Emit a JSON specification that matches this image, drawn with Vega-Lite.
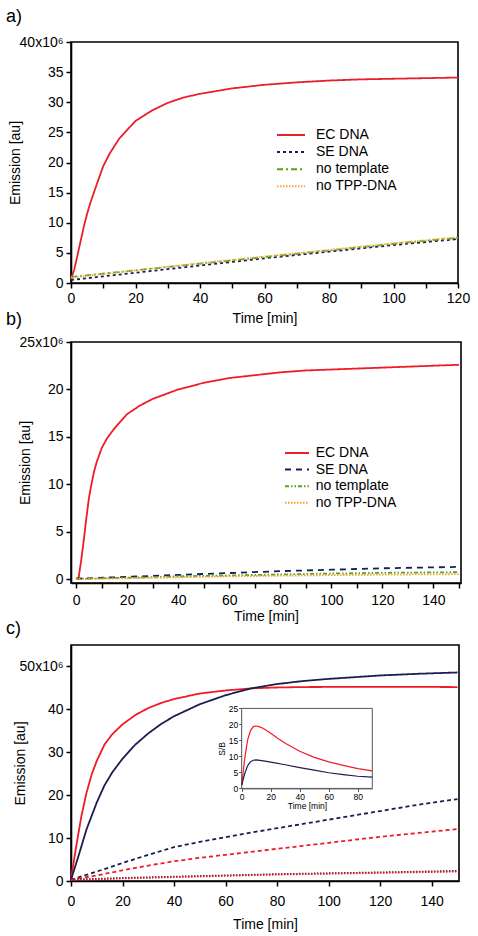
{
 "$schema": "https://vega.github.io/schema/vega-lite/v6.json",
 "background": "white",
 "padding": {"left": 5, "top": 7, "right": 8, "bottom": 4},
 "spacing": -16,
 "resolve": {"scale": {"color": "independent", "strokeDash": "independent"}, "legend": {"color": "independent", "strokeDash": "independent"}},
 "config": {
  "font": "Liberation Sans",
  "view": {"stroke": "black", "strokeWidth": 1.6},
  "axis": {"domainColor": "black", "domainWidth": 1.6, "tickColor": "black", "tickWidth": 1.5, "tickSize": 5, "labelFontSize": 14, "labelColor": "black", "labelFont": "Liberation Sans", "titleFont": "Liberation Sans", "titleFontSize": 14, "titleFontWeight": "normal", "titleColor": "black", "grid": false, "labelFlush": false, "labelOverlap": false, "labelPadding": 3, "titlePadding": 6},
  "legend": {"orient": "none", "title": null, "symbolType": "M-2,0H2", "symbolSize": 196, "symbolStrokeWidth": 2, "labelFontSize": 14, "labelFont": "Liberation Sans", "labelColor": "black", "labelOffset": 17, "rowPadding": 2.1, "padding": 0},
  "title": {"anchor": "start", "frame": "group", "fontSize": 18, "fontWeight": "normal", "font": "Liberation Sans", "color": "black", "dx": -65}
 },
 "datasets": {
  "a": [
   {"t":0,"v":0.7,"s":"EC DNA"},{"t":1,"v":2.2,"s":"EC DNA"},{"t":2,"v":4.6,"s":"EC DNA"},{"t":3,"v":7,"s":"EC DNA"},{"t":4,"v":9.4,"s":"EC DNA"},{"t":5,"v":11.5,"s":"EC DNA"},{"t":6,"v":13.3,"s":"EC DNA"},{"t":8,"v":16.4,"s":"EC DNA"},{"t":10,"v":19.4,"s":"EC DNA"},{"t":12,"v":21.5,"s":"EC DNA"},{"t":15,"v":24,"s":"EC DNA"},{"t":20,"v":26.9,"s":"EC DNA"},{"t":25,"v":28.6,"s":"EC DNA"},{"t":30,"v":29.9,"s":"EC DNA"},{"t":35,"v":30.8,"s":"EC DNA"},{"t":40,"v":31.4,"s":"EC DNA"},{"t":50,"v":32.3,"s":"EC DNA"},{"t":60,"v":32.9,"s":"EC DNA"},{"t":70,"v":33.3,"s":"EC DNA"},{"t":80,"v":33.6,"s":"EC DNA"},{"t":90,"v":33.8,"s":"EC DNA"},{"t":100,"v":33.9,"s":"EC DNA"},{"t":110,"v":34.0,"s":"EC DNA"},{"t":120,"v":34.1,"s":"EC DNA"},
   {"t":0,"v":0.5,"s":"SE DNA"},{"t":20,"v":1.7,"s":"SE DNA"},{"t":40,"v":2.9,"s":"SE DNA"},{"t":60,"v":4.1,"s":"SE DNA"},{"t":80,"v":5.2,"s":"SE DNA"},{"t":100,"v":6.3,"s":"SE DNA"},{"t":120,"v":7.3,"s":"SE DNA"},
   {"t":0,"v":1.0,"s":"no template"},{"t":20,"v":2.1,"s":"no template"},{"t":40,"v":3.2,"s":"no template"},{"t":60,"v":4.3,"s":"no template"},{"t":80,"v":5.4,"s":"no template"},{"t":100,"v":6.5,"s":"no template"},{"t":120,"v":7.5,"s":"no template"},
   {"t":0,"v":0.9,"s":"no TPP-DNA"},{"t":20,"v":2.1,"s":"no TPP-DNA"},{"t":40,"v":3.3,"s":"no TPP-DNA"},{"t":60,"v":4.4,"s":"no TPP-DNA"},{"t":80,"v":5.5,"s":"no TPP-DNA"},{"t":100,"v":6.6,"s":"no TPP-DNA"},{"t":120,"v":7.6,"s":"no TPP-DNA"}
  ],
  "b": [
   {"t":0,"v":0,"s":"EC DNA"},{"t":1,"v":0.2,"s":"EC DNA"},{"t":2,"v":2,"s":"EC DNA"},{"t":3,"v":4.1,"s":"EC DNA"},{"t":4,"v":6.4,"s":"EC DNA"},{"t":5,"v":8.5,"s":"EC DNA"},{"t":6,"v":10,"s":"EC DNA"},{"t":7,"v":11.3,"s":"EC DNA"},{"t":8,"v":12.3,"s":"EC DNA"},{"t":10,"v":13.8,"s":"EC DNA"},{"t":12,"v":14.8,"s":"EC DNA"},{"t":15,"v":15.9,"s":"EC DNA"},{"t":20,"v":17.4,"s":"EC DNA"},{"t":25,"v":18.3,"s":"EC DNA"},{"t":30,"v":19.0,"s":"EC DNA"},{"t":40,"v":20.0,"s":"EC DNA"},{"t":50,"v":20.7,"s":"EC DNA"},{"t":60,"v":21.2,"s":"EC DNA"},{"t":70,"v":21.5,"s":"EC DNA"},{"t":80,"v":21.8,"s":"EC DNA"},{"t":90,"v":22.0,"s":"EC DNA"},{"t":100,"v":22.1,"s":"EC DNA"},{"t":110,"v":22.2,"s":"EC DNA"},{"t":120,"v":22.3,"s":"EC DNA"},{"t":130,"v":22.4,"s":"EC DNA"},{"t":140,"v":22.5,"s":"EC DNA"},{"t":150,"v":22.6,"s":"EC DNA"},
   {"t":0,"v":0.05,"s":"SE DNA"},{"t":20,"v":0.25,"s":"SE DNA"},{"t":40,"v":0.45,"s":"SE DNA"},{"t":60,"v":0.65,"s":"SE DNA"},{"t":80,"v":0.85,"s":"SE DNA"},{"t":100,"v":1.0,"s":"SE DNA"},{"t":120,"v":1.15,"s":"SE DNA"},{"t":150,"v":1.3,"s":"SE DNA"},
   {"t":0,"v":0.05,"s":"no template"},{"t":20,"v":0.15,"s":"no template"},{"t":40,"v":0.3,"s":"no template"},{"t":60,"v":0.4,"s":"no template"},{"t":80,"v":0.5,"s":"no template"},{"t":100,"v":0.6,"s":"no template"},{"t":120,"v":0.67,"s":"no template"},{"t":150,"v":0.74,"s":"no template"},
   {"t":0,"v":0.0,"s":"no TPP-DNA"},{"t":20,"v":0.1,"s":"no TPP-DNA"},{"t":40,"v":0.2,"s":"no TPP-DNA"},{"t":60,"v":0.3,"s":"no TPP-DNA"},{"t":80,"v":0.37,"s":"no TPP-DNA"},{"t":100,"v":0.43,"s":"no TPP-DNA"},{"t":120,"v":0.48,"s":"no TPP-DNA"},{"t":150,"v":0.53,"s":"no TPP-DNA"}
  ],
  "c": [
   {"t":0,"v":0.5,"dna":"EC","kind":"solid"},{"t":2,"v":8,"dna":"EC","kind":"solid"},{"t":4,"v":15,"dna":"EC","kind":"solid"},{"t":6,"v":20.5,"dna":"EC","kind":"solid"},{"t":8,"v":24.8,"dna":"EC","kind":"solid"},{"t":10,"v":28,"dna":"EC","kind":"solid"},{"t":13,"v":31.8,"dna":"EC","kind":"solid"},{"t":16,"v":34.2,"dna":"EC","kind":"solid"},{"t":20,"v":36.5,"dna":"EC","kind":"solid"},{"t":25,"v":38.7,"dna":"EC","kind":"solid"},{"t":30,"v":40.3,"dna":"EC","kind":"solid"},{"t":35,"v":41.5,"dna":"EC","kind":"solid"},{"t":40,"v":42.4,"dna":"EC","kind":"solid"},{"t":50,"v":43.7,"dna":"EC","kind":"solid"},{"t":60,"v":44.4,"dna":"EC","kind":"solid"},{"t":70,"v":44.9,"dna":"EC","kind":"solid"},{"t":80,"v":45.1,"dna":"EC","kind":"solid"},{"t":90,"v":45.2,"dna":"EC","kind":"solid"},{"t":110,"v":45.25,"dna":"EC","kind":"solid"},{"t":130,"v":45.25,"dna":"EC","kind":"solid"},{"t":150,"v":45.2,"dna":"EC","kind":"solid"},
   {"t":0,"v":0.3,"dna":"SE","kind":"solid"},{"t":3,"v":6,"dna":"SE","kind":"solid"},{"t":6,"v":12,"dna":"SE","kind":"solid"},{"t":10,"v":18.3,"dna":"SE","kind":"solid"},{"t":13,"v":22.3,"dna":"SE","kind":"solid"},{"t":16,"v":25.3,"dna":"SE","kind":"solid"},{"t":20,"v":28.5,"dna":"SE","kind":"solid"},{"t":25,"v":31.8,"dna":"SE","kind":"solid"},{"t":30,"v":34.4,"dna":"SE","kind":"solid"},{"t":35,"v":36.6,"dna":"SE","kind":"solid"},{"t":40,"v":38.4,"dna":"SE","kind":"solid"},{"t":50,"v":41.2,"dna":"SE","kind":"solid"},{"t":60,"v":43.3,"dna":"SE","kind":"solid"},{"t":70,"v":44.9,"dna":"SE","kind":"solid"},{"t":80,"v":45.9,"dna":"SE","kind":"solid"},{"t":90,"v":46.6,"dna":"SE","kind":"solid"},{"t":100,"v":47.1,"dna":"SE","kind":"solid"},{"t":110,"v":47.5,"dna":"SE","kind":"solid"},{"t":120,"v":47.9,"dna":"SE","kind":"solid"},{"t":135,"v":48.3,"dna":"SE","kind":"solid"},{"t":150,"v":48.6,"dna":"SE","kind":"solid"},
   {"t":0,"v":0.3,"dna":"SE","kind":"dashed"},{"t":10,"v":2.2,"dna":"SE","kind":"dashed"},{"t":20,"v":4.2,"dna":"SE","kind":"dashed"},{"t":30,"v":6.1,"dna":"SE","kind":"dashed"},{"t":40,"v":7.9,"dna":"SE","kind":"dashed"},{"t":50,"v":9.1,"dna":"SE","kind":"dashed"},{"t":60,"v":10.2,"dna":"SE","kind":"dashed"},{"t":70,"v":11.3,"dna":"SE","kind":"dashed"},{"t":80,"v":12.3,"dna":"SE","kind":"dashed"},{"t":90,"v":13.3,"dna":"SE","kind":"dashed"},{"t":100,"v":14.3,"dna":"SE","kind":"dashed"},{"t":110,"v":15.3,"dna":"SE","kind":"dashed"},{"t":120,"v":16.3,"dna":"SE","kind":"dashed"},{"t":135,"v":17.8,"dna":"SE","kind":"dashed"},{"t":150,"v":19.1,"dna":"SE","kind":"dashed"},
   {"t":0,"v":0.3,"dna":"EC","kind":"dashed"},{"t":10,"v":1.3,"dna":"EC","kind":"dashed"},{"t":20,"v":2.5,"dna":"EC","kind":"dashed"},{"t":30,"v":3.6,"dna":"EC","kind":"dashed"},{"t":40,"v":4.6,"dna":"EC","kind":"dashed"},{"t":50,"v":5.4,"dna":"EC","kind":"dashed"},{"t":60,"v":6.1,"dna":"EC","kind":"dashed"},{"t":70,"v":6.8,"dna":"EC","kind":"dashed"},{"t":80,"v":7.5,"dna":"EC","kind":"dashed"},{"t":90,"v":8.2,"dna":"EC","kind":"dashed"},{"t":100,"v":8.9,"dna":"EC","kind":"dashed"},{"t":110,"v":9.6,"dna":"EC","kind":"dashed"},{"t":120,"v":10.3,"dna":"EC","kind":"dashed"},{"t":135,"v":11.2,"dna":"EC","kind":"dashed"},{"t":150,"v":12.1,"dna":"EC","kind":"dashed"},
   {"t":0,"v":0.3,"dna":"SE","kind":"dotted"},{"t":20,"v":0.7,"dna":"SE","kind":"dotted"},{"t":40,"v":1.0,"dna":"SE","kind":"dotted"},{"t":60,"v":1.3,"dna":"SE","kind":"dotted"},{"t":80,"v":1.6,"dna":"SE","kind":"dotted"},{"t":100,"v":1.8,"dna":"SE","kind":"dotted"},{"t":120,"v":2.0,"dna":"SE","kind":"dotted"},{"t":150,"v":2.35,"dna":"SE","kind":"dotted"},
   {"t":0,"v":0.2,"dna":"EC","kind":"dotted"},{"t":20,"v":0.6,"dna":"EC","kind":"dotted"},{"t":40,"v":0.9,"dna":"EC","kind":"dotted"},{"t":60,"v":1.2,"dna":"EC","kind":"dotted"},{"t":80,"v":1.5,"dna":"EC","kind":"dotted"},{"t":100,"v":1.7,"dna":"EC","kind":"dotted"},{"t":120,"v":1.9,"dna":"EC","kind":"dotted"},{"t":150,"v":2.2,"dna":"EC","kind":"dotted"}
  ],
  "inset": [
   {"t":0,"v":1,"dna":"EC"},{"t":2,"v":9,"dna":"EC"},{"t":4,"v":15,"dna":"EC"},{"t":6,"v":18,"dna":"EC"},{"t":8,"v":19.3,"dna":"EC"},{"t":10,"v":19.5,"dna":"EC"},{"t":12,"v":19.3,"dna":"EC"},{"t":15,"v":18.7,"dna":"EC"},{"t":20,"v":17.2,"dna":"EC"},{"t":25,"v":15.6,"dna":"EC"},{"t":30,"v":14.1,"dna":"EC"},{"t":40,"v":11.6,"dna":"EC"},{"t":50,"v":9.7,"dna":"EC"},{"t":60,"v":8.3,"dna":"EC"},{"t":70,"v":7.2,"dna":"EC"},{"t":80,"v":6.2,"dna":"EC"},{"t":90,"v":5.5,"dna":"EC"},
   {"t":0,"v":1,"dna":"SE"},{"t":2,"v":4.5,"dna":"SE"},{"t":4,"v":7,"dna":"SE"},{"t":6,"v":8.3,"dna":"SE"},{"t":8,"v":8.8,"dna":"SE"},{"t":10,"v":8.9,"dna":"SE"},{"t":15,"v":8.6,"dna":"SE"},{"t":20,"v":8.2,"dna":"SE"},{"t":30,"v":7.4,"dna":"SE"},{"t":40,"v":6.5,"dna":"SE"},{"t":50,"v":5.7,"dna":"SE"},{"t":60,"v":4.9,"dna":"SE"},{"t":70,"v":4.3,"dna":"SE"},{"t":80,"v":3.8,"dna":"SE"},{"t":90,"v":3.5,"dna":"SE"}
  ]
 },
 "vconcat": [
  {
   "width": 387, "height": 241,
   "title": {"text": "a)", "offset": 9},
   "data": {"name": "a"},
   "mark": {"type": "line", "strokeWidth": 1.8},
   "encoding": {
    "x": {"field": "t", "type": "quantitative", "scale": {"domain": [0, 120], "nice": false, "zero": false},
     "axis": {"title": "Time [min]", "values": [0,10,20,30,40,50,60,70,80,90,100,110,120], "labelExpr": "datum.value % 20 == 0 ? datum.label : ''"}},
    "y": {"field": "v", "type": "quantitative", "scale": {"domain": [0, 40], "nice": false},
     "axis": {"title": "Emission [au]", "values": [0,5,10,15,20,25,30,35,40], "labelExpr": "datum.value == 40 ? '40x10⁶' : datum.label", "titleX": -49}},
    "color": {"field": "s", "type": "nominal", "scale": {"domain": ["EC DNA","SE DNA","no template","no TPP-DNA"], "range": ["#e8202a","#1c1c5a","#4ea51c","#f2a93b"]},
     "legend": {"legendX": 212, "legendY": 85}},
    "strokeDash": {"field": "s", "type": "nominal", "scale": {"domain": ["EC DNA","SE DNA","no template","no TPP-DNA"], "range": [[1,0],[3,3],[6,3,2,3],[1.5,1.5]]},
     "legend": {"legendX": 212, "legendY": 85}}
   }
  },
  {
   "width": 390, "height": 241,
   "title": {"text": "b)", "offset": 6},
   "data": {"name": "b"},
   "mark": {"type": "line", "strokeWidth": 1.8},
   "encoding": {
    "x": {"field": "t", "type": "quantitative", "scale": {"domain": [-2, 150.8], "nice": false, "zero": false},
     "axis": {"title": ["Time [min]", " "], "titleLineHeight": 11, "labelPadding": 5, "titlePadding": 2, "values": [0,10,20,30,40,50,60,70,80,90,100,110,120,130,140,150], "labelExpr": "datum.value % 20 == 0 ? datum.label : ''"}},
    "y": {"field": "v", "type": "quantitative", "scale": {"domain": [-0.4, 25], "nice": false, "zero": false},
     "axis": {"title": "Emission [au]", "values": [0,5,10,15,20,25], "labelExpr": "datum.value == 25 ? '25x10⁶' : datum.label", "titleX": -39}},
    "color": {"field": "s", "type": "nominal", "scale": {"domain": ["EC DNA","SE DNA","no template","no TPP-DNA"], "range": ["#ee1c25","#1c1c5a","#4ea51c","#f2a02c"]},
     "legend": {"legendX": 219, "legendY": 104, "symbolSize": 144, "labelOffset": 11.7, "rowPadding": 2.6}},
    "strokeDash": {"field": "s", "type": "nominal", "scale": {"domain": ["EC DNA","SE DNA","no template","no TPP-DNA"], "range": [[1,0],[6,5],[4,2,1.5,2,1.5,2],[1.5,1.5]]},
     "legend": {"legendX": 219, "legendY": 104, "symbolSize": 144, "labelOffset": 11.7, "rowPadding": 2.6}}
   }
  },
  {
   "width": 388, "height": 236,
   "title": {"text": "c)", "offset": 7},
   "layer": [
    {
     "data": {"name": "c"},
     "mark": {"type": "line", "strokeWidth": 1.8},
     "encoding": {
      "x": {"field": "t", "type": "quantitative", "scale": {"domain": [0, 150.6], "nice": false, "zero": false},
       "axis": {"orient": "bottom", "title": "Time [min]", "values": [0,20,40,60,80,100,120,140], "labelPadding": 8, "titlePadding": 9}},
      "y": {"field": "v", "type": "quantitative", "scale": {"domain": [0, 55], "nice": false},
       "axis": {"orient": "left", "title": "Emission [au]", "values": [0,10,20,30,40,50], "labelExpr": "datum.value == 50 ? '50x10⁶' : datum.label", "titleX": -44}},
      "color": {"field": "dna", "type": "nominal", "scale": {"domain": ["EC","SE"], "range": ["#ee1c25","#1c1c50"]}, "legend": null},
      "strokeDash": {"field": "kind", "type": "nominal", "scale": {"domain": ["solid","dashed","dotted"], "range": [[1,0],[4,3],[1.5,1.5]]}, "legend": null}
     }
    },
    {
     "layer": [
      {
       "data": {"values": [{}]},
       "mark": {"type": "rect", "fill": "white", "stroke": "#555555", "strokeWidth": 1},
       "encoding": {
        "x": {"datum": 0, "type": "quantitative", "scale": {"domain": [0, 90], "range": [170.7, 301.3], "nice": false, "zero": false},
         "axis": {"orient": "bottom", "offset": -92.6, "values": [0,20,40,60,80], "title": "Time [min]", "labelFontSize": 8.5, "titleFontSize": 8.5, "tickSize": 3, "tickWidth": 1, "domainWidth": 1, "domainColor": "#555555", "tickColor": "#555555", "labelPadding": 1, "titlePadding": 1}},
        "x2": {"datum": 90},
        "y": {"datum": 0, "type": "quantitative", "scale": {"domain": [0, 25], "range": [143.4, 63.4], "nice": false, "zero": false},
         "axis": {"orient": "left", "offset": -170.7, "values": [0,5,10,15,20,25], "title": "S/B", "labelFontSize": 8.5, "titleFontSize": 8.5, "tickSize": 3, "tickWidth": 1, "domainWidth": 1, "domainColor": "#555555", "tickColor": "#555555", "labelPadding": 1, "titlePadding": 2}},
        "y2": {"datum": 25}
       }
      },
      {
       "data": {"name": "inset"},
       "mark": {"type": "line", "strokeWidth": 1.2},
       "encoding": {
        "x": {"field": "t", "type": "quantitative"},
        "y": {"field": "v", "type": "quantitative"},
        "color": {"field": "dna", "type": "nominal", "scale": {"domain": ["EC","SE"], "range": ["#ee1c25","#1c1c50"]}, "legend": null}
       }
      }
     ]
    }
   ],
   "resolve": {"scale": {"x": "independent", "y": "independent", "color": "independent", "strokeDash": "independent"}, "axis": {"x": "independent", "y": "independent"}}
  }
 ]
}
